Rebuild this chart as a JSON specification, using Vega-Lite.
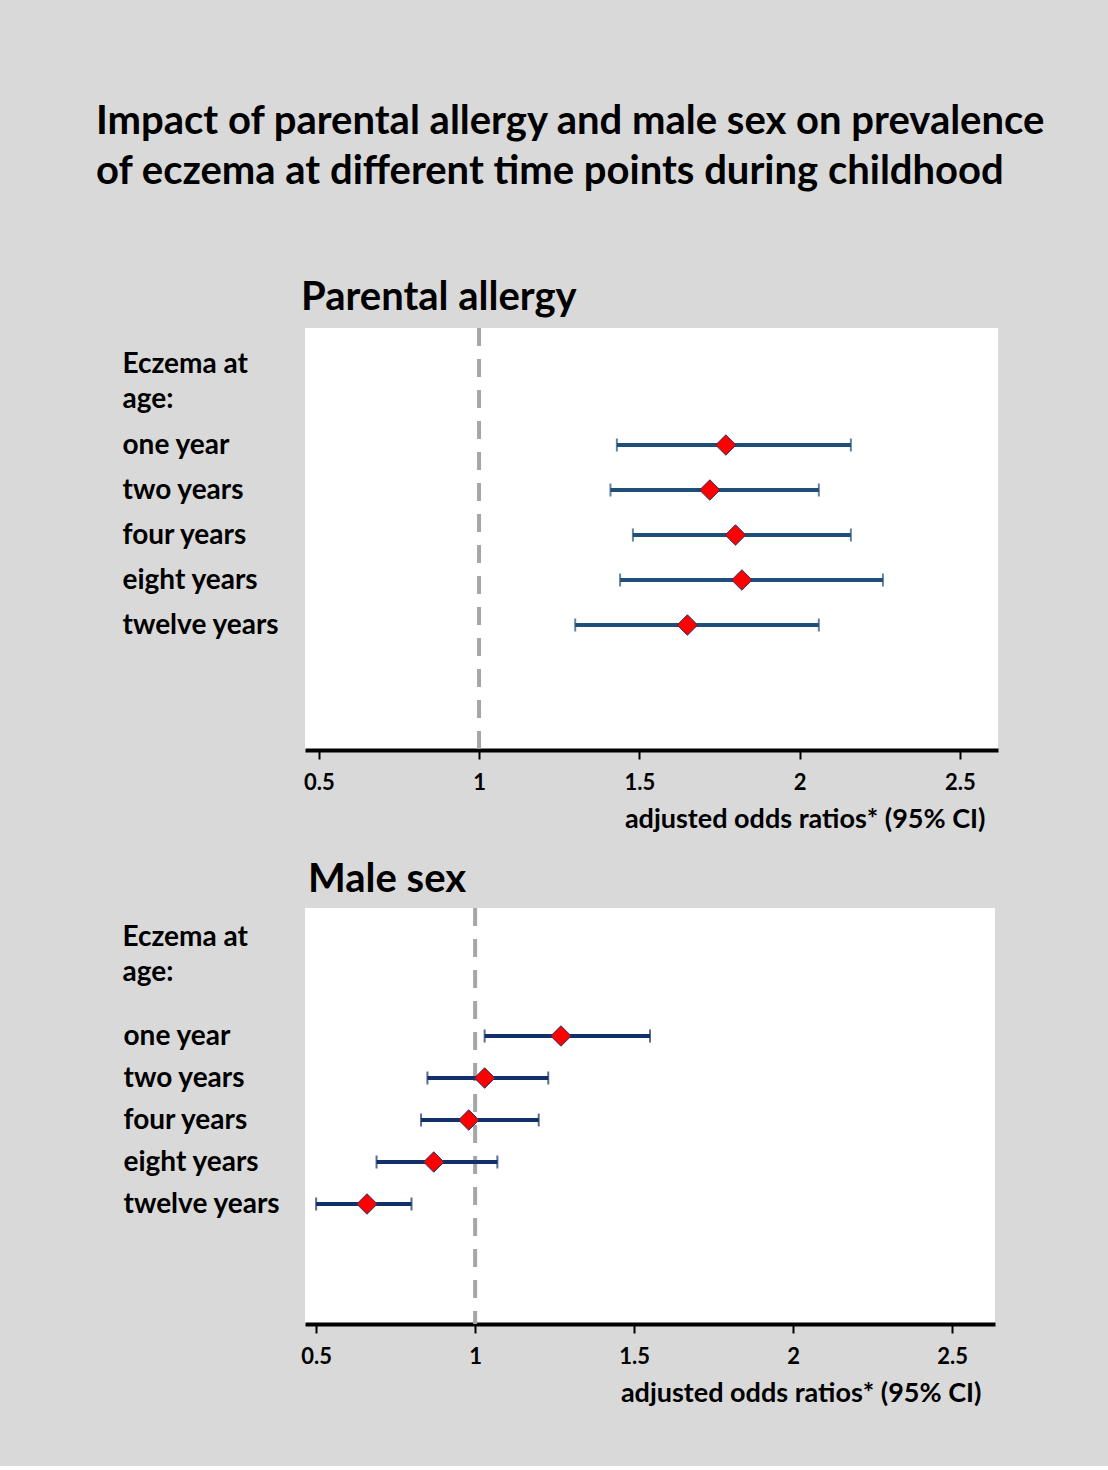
{
  "$schema": "https://vega.github.io/schema/vega-lite/v6.json",
  "background": "#d9d9d9",
  "padding": {"left": 96, "top": 102, "right": 112, "bottom": 60},
  "title": {
    "text": ["Impact of parental allergy and male sex on prevalence", "of eczema at different time points during childhood"],
    "anchor": "start",
    "dx": -26,
    "font": "Lato",
    "fontSize": 40,
    "fontWeight": "bold",
    "lineHeight": 50,
    "color": "black",
    "offset": 86
  },
  "config": {
    "font": "Lato",
    "view": {"fill": "white", "stroke": null},
    "axisX": {
      "domainColor": "black",
      "domainWidth": 4,
      "tickColor": "black",
      "tickWidth": 2,
      "tickSize": 9,
      "grid": false,
      "format": "~g",
      "labelFont": "Lato",
      "labelFontSize": 22,
      "labelFontWeight": "bold",
      "labelColor": "black",
      "labelPadding": 13,
      "titleFont": "Lato",
      "titleFontSize": 27,
      "titleFontWeight": "bold",
      "titleColor": "black",
      "titleAnchor": "end",
      "titlePadding": 13
    },
    "axisY": {
      "domain": false,
      "ticks": false,
      "tickSize": 0,
      "grid": false,
      "labelFont": "Lato",
      "labelFontSize": 28,
      "labelFontWeight": "bold",
      "labelColor": "black",
      "labelAlign": "left",
      "labelBaseline": "middle",
      "titleFont": "Lato",
      "titleFontSize": 28,
      "titleFontWeight": "bold",
      "titleColor": "black",
      "titleAngle": 0,
      "titleAlign": "left",
      "titleBaseline": "top",
      "titleLineHeight": 35
    },
    "title": {"font": "Lato", "fontSize": 40, "fontWeight": "bold", "color": "black"}
  },
  "datasets": {
    "parental": [
      {"age": "one year", "lo": 1.43, "est": 1.77, "hi": 2.16},
      {"age": "two years", "lo": 1.41, "est": 1.72, "hi": 2.06},
      {"age": "four years", "lo": 1.48, "est": 1.80, "hi": 2.16},
      {"age": "eight years", "lo": 1.44, "est": 1.82, "hi": 2.26},
      {"age": "twelve years", "lo": 1.30, "est": 1.65, "hi": 2.06}
    ],
    "male": [
      {"age": "one year", "lo": 1.03, "est": 1.27, "hi": 1.55},
      {"age": "two years", "lo": 0.85, "est": 1.03, "hi": 1.23},
      {"age": "four years", "lo": 0.83, "est": 0.98, "hi": 1.20},
      {"age": "eight years", "lo": 0.69, "est": 0.87, "hi": 1.07},
      {"age": "twelve years", "lo": 0.50, "est": 0.66, "hi": 0.80}
    ],
    "reference": [{"ref": 1}]
  },
  "spacing": 28,
  "vconcat": [
    {
      "width": 693,
      "height": 422,
      "title": {"text": "Parental allergy", "anchor": "start", "frame": "group", "baseline": "alphabetic", "offset": -24, "dx": -4},
      "layer": [
        {
          "data": {"name": "reference"},
          "mark": {"type": "rule", "color": "#a6a6a6", "strokeWidth": 4, "strokeDash": [18, 13]},
          "encoding": {
            "x": {"field": "ref", "type": "quantitative", "scale": {"domain": [0.457, 2.619], "nice": false, "zero": false}, "title": "adjusted odds ratios* (95% CI)",
              "axis": {"values": [0.5, 1, 1.5, 2, 2.5], "titleX": 680}}
          }
        },
        {
          "data": {"name": "parental"},
          "mark": {"type": "rule", "color": "#1f4e79", "strokeWidth": 4},
          "encoding": {
            "x": {"field": "lo", "type": "quantitative", "title": "adjusted odds ratios* (95% CI)"},
            "x2": {"field": "hi"},
            "y": {"field": "age", "type": "ordinal",
              "scale": {"type": "point", "domain": ["one year", "two years", "four years", "eight years", "twelve years"], "range": [117, 297], "padding": 0},
              "axis": {"title": ["Eczema at", "age:"], "labelPadding": 183, "titleX": -183, "titleY": 22}}
          }
        },
        {
          "data": {"name": "parental"},
          "mark": {"type": "tick", "color": "#1f4e79", "size": 13, "thickness": 2, "orient": "vertical"},
          "encoding": {
            "x": {"field": "lo", "type": "quantitative", "title": "adjusted odds ratios* (95% CI)"},
            "y": {"field": "age", "type": "ordinal"}
          }
        },
        {
          "data": {"name": "parental"},
          "mark": {"type": "tick", "color": "#1f4e79", "size": 13, "thickness": 2, "orient": "vertical"},
          "encoding": {
            "x": {"field": "hi", "type": "quantitative", "title": "adjusted odds ratios* (95% CI)"},
            "y": {"field": "age", "type": "ordinal"}
          }
        },
        {
          "data": {"name": "parental"},
          "mark": {"type": "point", "shape": "diamond", "filled": true, "fill": "#ff0000", "stroke": "#1f3864", "strokeWidth": 1, "size": 420, "opacity": 1},
          "encoding": {
            "x": {"field": "est", "type": "quantitative", "title": "adjusted odds ratios* (95% CI)"},
            "y": {"field": "age", "type": "ordinal"}
          }
        }
      ]
    },
    {
      "width": 690,
      "height": 416,
      "title": {"text": "Male sex", "anchor": "start", "frame": "group", "baseline": "alphabetic", "offset": -26, "dx": 3},
      "layer": [
        {
          "data": {"name": "reference"},
          "mark": {"type": "rule", "color": "#a6a6a6", "strokeWidth": 4, "strokeDash": [18, 13]},
          "encoding": {
            "x": {"field": "ref", "type": "quantitative", "scale": {"domain": [0.465, 2.635], "nice": false, "zero": false}, "title": "adjusted odds ratios* (95% CI)",
              "axis": {"values": [0.5, 1, 1.5, 2, 2.5], "titleX": 676}}
          }
        },
        {
          "data": {"name": "male"},
          "mark": {"type": "rule", "color": "#102f6b", "strokeWidth": 4},
          "encoding": {
            "x": {"field": "lo", "type": "quantitative", "title": "adjusted odds ratios* (95% CI)"},
            "x2": {"field": "hi"},
            "y": {"field": "age", "type": "ordinal",
              "scale": {"type": "point", "domain": ["one year", "two years", "four years", "eight years", "twelve years"], "range": [128, 296], "padding": 0},
              "axis": {"title": ["Eczema at", "age:"], "labelPadding": 182, "titleX": -183, "titleY": 15}}
          }
        },
        {
          "data": {"name": "male"},
          "mark": {"type": "tick", "color": "#102f6b", "size": 13, "thickness": 2, "orient": "vertical"},
          "encoding": {
            "x": {"field": "lo", "type": "quantitative", "title": "adjusted odds ratios* (95% CI)"},
            "y": {"field": "age", "type": "ordinal"}
          }
        },
        {
          "data": {"name": "male"},
          "mark": {"type": "tick", "color": "#102f6b", "size": 13, "thickness": 2, "orient": "vertical"},
          "encoding": {
            "x": {"field": "hi", "type": "quantitative", "title": "adjusted odds ratios* (95% CI)"},
            "y": {"field": "age", "type": "ordinal"}
          }
        },
        {
          "data": {"name": "male"},
          "mark": {"type": "point", "shape": "diamond", "filled": true, "fill": "#ff0000", "stroke": "#1f3864", "strokeWidth": 1, "size": 420, "opacity": 1},
          "encoding": {
            "x": {"field": "est", "type": "quantitative", "title": "adjusted odds ratios* (95% CI)"},
            "y": {"field": "age", "type": "ordinal"}
          }
        }
      ]
    }
  ]
}
